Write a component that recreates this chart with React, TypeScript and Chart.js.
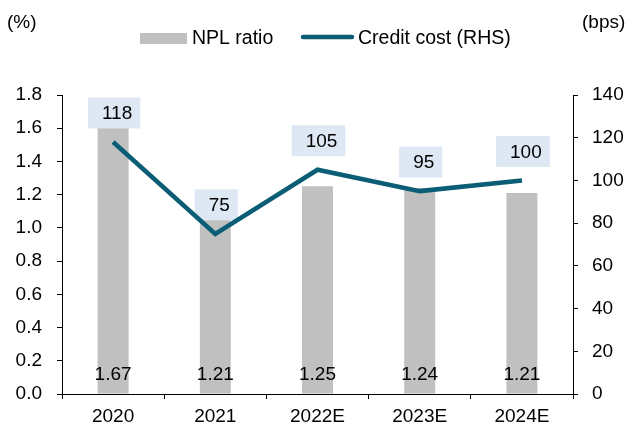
import React, { useEffect, useRef } from "react";
import { Chart, registerables } from "chart.js";

Chart.register(...registerables);

const categories = ["2020", "2021", "2022E", "2023E", "2024E"];
const nplRatio = [1.67, 1.21, 1.25, 1.24, 1.21];
const creditCost = [118, 75, 105, 95, 100];
const leftTicks = { min: 0, max: 1.8, step: 0.2 };
const rightTicks = { min: 0, max: 140, step: 20 };

const FONT = "'Liberation Sans', Arial, sans-serif";
const BAR_COLOR = "#c0c0c0";
const LINE_COLOR = "#0b5d75";
const BOX_COLOR = "#dde8f4";

const labelPlugin = {
  id: "customLabels",
  afterDatasetDraw(chart: any, args: any) {
    if (args.index !== 0) return;
    const ctx = chart.ctx;
    const lineMeta = chart.getDatasetMeta(1);
    ctx.save();
    ctx.font = `19px ${FONT}`;
    lineMeta.data.forEach((pt: any, i: number) => {
      const txt = String(creditCost[i]);
      const w = ctx.measureText(txt).width + 22;
      const h = 31;
      const cx = pt.x + 1;
      const cy = pt.y - 29;
      ctx.fillStyle = BOX_COLOR;
      ctx.fillRect(cx - w / 2, cy - h / 2, w, h);
      ctx.fillStyle = "#000";
      ctx.textAlign = "center";
      ctx.textBaseline = "middle";
      ctx.fillText(txt, cx + 3, cy + 1);
    });
    ctx.restore();
  },
  afterDatasetsDraw(chart: any) {
    const ctx = chart.ctx;
    const barMeta = chart.getDatasetMeta(0);
    const yScale = chart.scales.y;
    ctx.save();
    ctx.font = `19px ${FONT}`;
    ctx.fillStyle = "#000";
    ctx.textAlign = "center";
    ctx.textBaseline = "middle";
    barMeta.data.forEach((bar: any, i: number) => {
      ctx.fillText(nplRatio[i].toFixed(2), bar.x, yScale.getPixelForValue(0) - 19);
    });
    ctx.restore();
  },
  afterDraw(chart: any) {
    const ctx = chart.ctx;
    ctx.save();
    ctx.fillStyle = "#000";
    ctx.textBaseline = "middle";
    ctx.font = `19px ${FONT}`;
    ctx.textAlign = "left";
    ctx.fillText("(%)", 7, 23);
    ctx.fillText("(bps)", 582, 23);
    // legend
    ctx.fillStyle = BAR_COLOR;
    ctx.fillRect(140, 33, 47, 11);
    ctx.fillStyle = "#000";
    ctx.font = `19.5px ${FONT}`;
    ctx.fillText("NPL ratio", 192, 39);
    ctx.strokeStyle = LINE_COLOR;
    ctx.lineWidth = 4.5;
    ctx.lineCap = "round";
    ctx.beginPath();
    ctx.moveTo(303, 37);
    ctx.lineTo(352, 37);
    ctx.stroke();
    ctx.fillText("Credit cost (RHS)", 358, 39);
    ctx.restore();
  },
};

export default function App() {
  const ref = useRef<HTMLCanvasElement>(null);
  useEffect(() => {
    document.body.style.margin = "0";
    const tickFont = { family: FONT, size: 19 };
    const chart = new Chart(ref.current as HTMLCanvasElement, {
      type: "bar",
      data: {
        labels: categories,
        datasets: [
          {
            type: "bar",
            label: "NPL ratio",
            data: nplRatio,
            backgroundColor: BAR_COLOR,
            yAxisID: "y",
            order: 2,
            barPercentage: 0.303,
            categoryPercentage: 1,
          },
          {
            type: "line",
            label: "Credit cost (RHS)",
            data: creditCost,
            borderColor: LINE_COLOR,
            backgroundColor: LINE_COLOR,
            borderWidth: 4.5,
            pointRadius: 0,
            tension: 0,
            yAxisID: "y1",
            order: 1,
          } as any,
        ],
      },
      options: {
        animation: false,
        responsive: false,
        devicePixelRatio: 1,
        layout: { padding: { top: 95, left: 0, right: 0, bottom: 0 } },
        plugins: { legend: { display: false }, tooltip: { enabled: false } },
        scales: {
          x: {
            grid: { offset: true, display: true, drawOnChartArea: false, drawTicks: true, tickLength: 5, color: "#000" },
            border: { display: true, color: "#000", width: 1 },
            ticks: { font: tickFont, color: "#000", padding: 6, maxRotation: 0 },
            afterFit(scale: any) { scale.height = 32; },
          },
          y: {
            position: "left",
            min: leftTicks.min,
            max: leftTicks.max,
            grid: { drawOnChartArea: false, drawTicks: true, tickLength: 5, color: "#000" },
            border: { display: true, color: "#000", width: 1 },
            ticks: {
              stepSize: leftTicks.step,
              font: tickFont,
              color: "#000",
              padding: 15,
              callback: (v: any) => Number(v).toFixed(1),
            },
            afterFit(scale: any) { scale.width = 62; },
          },
          y1: {
            position: "right",
            min: rightTicks.min,
            max: rightTicks.max,
            grid: { drawOnChartArea: false, drawTicks: true, tickLength: 5, color: "#000" },
            border: { display: true, color: "#000", width: 1 },
            ticks: { stepSize: rightTicks.step, font: tickFont, color: "#000", padding: 14 },
            afterFit(scale: any) { scale.width = 58; },
          },
        },
      } as any,
      plugins: [labelPlugin],
    });
    return () => chart.destroy();
  }, []);
  return (
    <div style={{ position: "absolute", left: 0, top: 0, width: 631, height: 426 }}>
      <canvas ref={ref} width={631} height={426} />
    </div>
  );
}
